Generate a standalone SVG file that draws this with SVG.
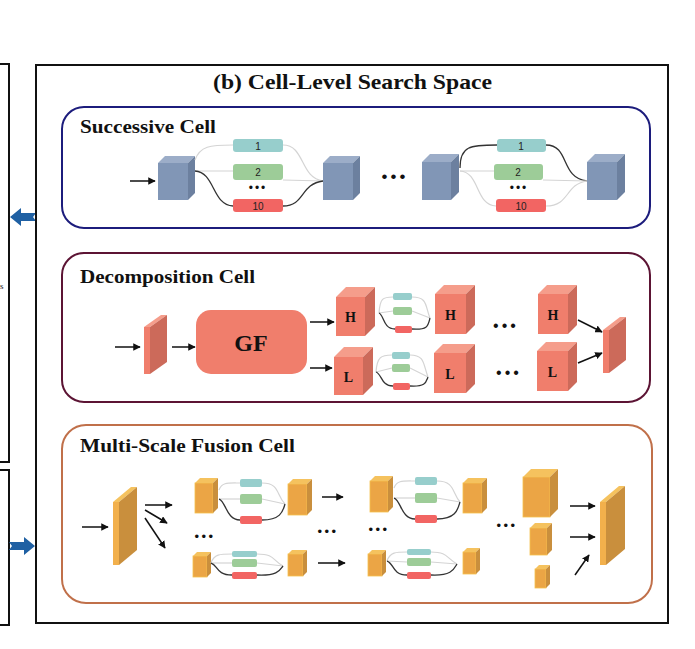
<svg xmlns="http://www.w3.org/2000/svg" width="695" height="649" viewBox="0 0 695 649">
<style>
.frame{fill:none;stroke:#111;stroke-width:2}
.title{font-family:"Liberation Serif","Times New Roman",serif;font-weight:bold;fill:#111}
.num{font-family:"Liberation Sans",Arial,sans-serif;font-size:10px;fill:#222;text-anchor:middle}
.dots{font-family:"Liberation Sans",Arial,sans-serif;fill:#111;text-anchor:middle}
.bf{fill:#8196b6}.bt{fill:#9cadc8}.bs{fill:#6c809f}
.sf{fill:#f07e6c}.st{fill:#f59d8b}.ss{fill:#cc6a5a}
.of{fill:#eba545;stroke:#f5c04e;stroke-width:0.8}.ot{fill:#f5c25e}.os{fill:#c98f3d}
.teal{fill:#97cecc}.green{fill:#9dcc98}.red{fill:#f26563}
.lt{fill:none;stroke:#d4d4d4;stroke-width:1.2}
.dk{fill:none;stroke:#333;stroke-width:1.3}
.arr{fill:none;stroke:#111;stroke-width:1.5;marker-end:url(#ah)}
.blue{fill:#1f60a3}
</style>
<defs>
<marker id="ah" viewBox="0 0 10 10" refX="9" refY="5" markerWidth="5" markerHeight="5" orient="auto">
<path d="M0,0 L10,5 L0,10 z" fill="#111"/>
</marker>
</defs>
<rect width="695" height="649" fill="#fff"/>

<!-- left side panels (cut) -->
<g id="left-panels">
<rect class="frame" x="-4" y="64" width="13" height="398"/>
<rect class="frame" x="-4" y="470" width="13" height="155"/>
<text x="0" y="289" font-family="Liberation Serif,serif" font-size="9" fill="#111">s</text>
<path class="blue" d="M10,217 L21,208 L21,213 L36,213 L33,217 L36,221 L21,221 L21,226 z"/>
<path class="blue" d="M35,546 L24,537 L24,542 L9,542 L12,546 L9,550 L24,550 L24,555 z"/>
</g>

<!-- main frame -->
<g id="main-frame">
<rect class="frame" x="36" y="65" width="632" height="558"/>
<text x="213" y="89" class="title" font-size="22" textLength="279" lengthAdjust="spacingAndGlyphs">(b) Cell-Level Search Space</text>
</g>

<!-- Successive Cell -->
<g id="successive-cell">
<rect x="62" y="107" width="588" height="121" rx="22" fill="none" stroke="#1c1c7c" stroke-width="2"/>
<text x="80" y="133" class="title" font-size="19" textLength="136" lengthAdjust="spacingAndGlyphs">Successive Cell</text>
</g>
<g id="s-cube1"><rect class="bf" x="158" y="163" width="30" height="37"/><path class="bt" d="M158,163 L165,156 L195,156 L188,163 z"/><path class="bs" d="M188,163 L195,156 L195,193 L188,200 z"/></g>
<g id="s-cube2"><rect class="bf" x="323" y="163" width="30" height="37"/><path class="bt" d="M323,163 L330,156 L360,156 L353,163 z"/><path class="bs" d="M353,163 L360,156 L360,193 L353,200 z"/></g>
<g id="s-cube3"><rect class="bf" x="422" y="162" width="29" height="38"/><path class="bt" d="M422,162 L430,154 L459,154 L451,162 z"/><path class="bs" d="M451,162 L459,154 L459,192 L451,200 z"/></g>
<g id="s-cube4"><rect class="bf" x="587" y="162" width="30" height="38"/><path class="bt" d="M587,162 L595,154 L625,154 L617,162 z"/><path class="bs" d="M617,162 L625,154 L625,192 L617,200 z"/></g>
<g id="s-ops1">
<rect class="teal" x="233" y="139" width="50" height="13" rx="3"/><text class="num" x="258" y="149.5">1</text>
<rect class="green" x="233" y="164" width="50" height="16" rx="3"/><text class="num" x="258" y="176">2</text>
<text class="dots" x="258" y="192" font-size="12" letter-spacing="2">•••</text>
<rect class="red" x="233" y="199" width="50" height="13" rx="3"/><text class="num" x="258" y="209.5">10</text>
</g>
<g id="s-ops2">
<rect class="teal" x="497" y="139" width="49" height="13" rx="3"/><text class="num" x="521" y="149.5">1</text>
<rect class="green" x="494" y="164" width="49" height="16" rx="3"/><text class="num" x="518" y="176">2</text>
<text class="dots" x="519" y="192" font-size="12" letter-spacing="2">•••</text>
<rect class="red" x="496" y="199" width="50" height="13" rx="3"/><text class="num" x="521" y="209.5">10</text>
</g>
<text class="dots" x="395" y="182" font-size="17" letter-spacing="3">•••</text>

<!-- Decomposition Cell -->
<g id="decomposition-cell">
<rect x="62" y="253" width="588" height="149" rx="22" fill="none" stroke="#5c1434" stroke-width="2"/>
<text x="80" y="283" class="title" font-size="19" textLength="175" lengthAdjust="spacingAndGlyphs">Decomposition Cell</text>
</g>
<g id="d-slab-in"><path class="st" d="M144,327 L161,315 L167,315 L150,327 z"/><rect class="sf" x="144" y="327" width="6" height="47"/><path class="ss" d="M150,327 L167,315 L167,362 L150,374 z"/></g>
<g id="d-gf"><rect x="196" y="310" width="111" height="64" rx="15" fill="#f07e6c"/><text x="251" y="351" class="title" font-size="24" text-anchor="middle">GF</text></g>
<g id="d-h1"><rect class="sf" x="336" y="297" width="29" height="39"/><path class="st" d="M336,297 L346,287 L375,287 L365,297 z"/><path class="ss" d="M365,297 L375,287 L375,326 L365,336 z"/><text x="350.5" y="322" class="title" font-size="14" text-anchor="middle">H</text></g>
<g id="d-l1"><rect class="sf" x="334" y="357" width="29" height="38"/><path class="st" d="M334,357 L344,347 L373,347 L363,357 z"/><path class="ss" d="M363,357 L373,347 L373,385 L363,395 z"/><text x="348.5" y="382" class="title" font-size="14" text-anchor="middle">L</text></g>
<g id="d-h2"><rect class="sf" x="435" y="294" width="31" height="40"/><path class="st" d="M435,294 L444,285 L475,285 L466,294 z"/><path class="ss" d="M466,294 L475,285 L475,325 L466,334 z"/><text x="450.5" y="320" class="title" font-size="14" text-anchor="middle">H</text></g>
<g id="d-l2"><rect class="sf" x="434" y="353" width="32" height="40"/><path class="st" d="M434,353 L443,344 L475,344 L466,353 z"/><path class="ss" d="M466,353 L475,344 L475,384 L466,393 z"/><text x="450" y="379" class="title" font-size="14" text-anchor="middle">L</text></g>
<g id="d-h3"><rect class="sf" x="538" y="294" width="30" height="40"/><path class="st" d="M538,294 L547,285 L577,285 L568,294 z"/><path class="ss" d="M568,294 L577,285 L577,325 L568,334 z"/><text x="553" y="320" class="title" font-size="14" text-anchor="middle">H</text></g>
<g id="d-l3"><rect class="sf" x="537" y="351" width="31" height="40"/><path class="st" d="M537,351 L546,342 L577,342 L568,351 z"/><path class="ss" d="M568,351 L577,342 L577,382 L568,391 z"/><text x="552.5" y="377" class="title" font-size="14" text-anchor="middle">L</text></g>
<g id="d-slab-out"><path class="st" d="M603,330 L620,317 L626,317 L609,330 z"/><rect class="sf" x="603" y="330" width="6" height="43"/><path class="ss" d="M609,330 L626,317 L626,360 L609,373 z"/></g>
<g id="d-ops-h">
<rect class="teal" x="393" y="293" width="19" height="7" rx="2"/>
<rect class="green" x="393" y="307" width="19" height="8" rx="2"/>
<rect class="red" x="395" y="326" width="17" height="7" rx="2"/>
</g>
<g id="d-ops-l">
<rect class="teal" x="392" y="352" width="18" height="7" rx="2"/>
<rect class="green" x="392" y="364" width="18" height="8" rx="2"/>
<rect class="red" x="393" y="383" width="17" height="7" rx="2"/>
</g>
<text class="dots" x="506" y="331" font-size="16" letter-spacing="3">•••</text>
<text class="dots" x="509" y="378" font-size="16" letter-spacing="3">•••</text>

<!-- Multi-Scale Fusion Cell -->
<g id="multiscale-cell">
<rect x="62" y="425" width="590" height="178" rx="24" fill="none" stroke="#c0704a" stroke-width="2"/>
<text x="80" y="452" class="title" font-size="19" textLength="215" lengthAdjust="spacingAndGlyphs">Multi-Scale Fusion Cell</text>
</g>
<g id="m-slab-in"><path class="ot" d="M113,502 L131,487 L137,487 L119,502 z"/><rect x="113" y="502" width="6" height="63" fill="#f2b04c"/><path class="os" d="M119,502 L137,487 L137,550 L119,565 z"/></g>
<g id="m-slab-out"><path class="ot" d="M600,502 L619,486 L625,486 L606,502 z"/><rect x="600" y="502" width="6" height="63" fill="#f2b04c"/><path class="os" d="M606,502 L625,486 L625,549 L606,565 z"/></g>
<g id="m-t1"><rect class="of" x="195" y="483" width="18" height="30"/><path class="ot" d="M195,483 L200,478 L218,478 L213,483 z"/><path class="os" d="M213,483 L218,478 L218,508 L213,513 z"/></g>
<g id="m-t2"><rect class="of" x="288" y="484" width="19" height="31"/><path class="ot" d="M288,484 L293,479 L312,479 L307,484 z"/><path class="os" d="M307,484 L312,479 L312,510 L307,515 z"/></g>
<g id="m-b1"><rect class="of" x="193" y="556" width="14" height="21"/><path class="ot" d="M193,556 L197,552 L211,552 L207,556 z"/><path class="os" d="M207,556 L211,552 L211,573 L207,577 z"/></g>
<g id="m-b2"><rect class="of" x="288" y="554" width="15" height="22"/><path class="ot" d="M288,554 L292,550 L307,550 L303,554 z"/><path class="os" d="M303,554 L307,550 L307,572 L303,576 z"/></g>
<g id="m-t3"><rect class="of" x="370" y="481" width="18" height="31"/><path class="ot" d="M370,481 L375,476 L393,476 L388,481 z"/><path class="os" d="M388,481 L393,476 L393,507 L388,512 z"/></g>
<g id="m-t4"><rect class="of" x="463" y="483" width="19" height="30"/><path class="ot" d="M463,483 L468,478 L487,478 L482,483 z"/><path class="os" d="M482,483 L487,478 L487,508 L482,513 z"/></g>
<g id="m-b3"><rect class="of" x="368" y="554" width="14" height="22"/><path class="ot" d="M368,554 L372,550 L386,550 L382,554 z"/><path class="os" d="M382,554 L386,550 L386,572 L382,576 z"/></g>
<g id="m-b4"><rect class="of" x="463" y="552" width="13" height="22"/><path class="ot" d="M463,552 L467,548 L480,548 L476,552 z"/><path class="os" d="M476,552 L480,548 L480,570 L476,574 z"/></g>
<g id="m-r1"><rect class="of" x="523" y="477" width="27" height="40"/><path class="ot" d="M523,477 L531,469 L558,469 L550,477 z"/><path class="os" d="M550,477 L558,469 L558,509 L550,517 z"/></g>
<g id="m-r2"><rect class="of" x="530" y="528" width="17" height="27"/><path class="ot" d="M530,528 L535,523 L552,523 L547,528 z"/><path class="os" d="M547,528 L552,523 L552,550 L547,555 z"/></g>
<g id="m-r3"><rect class="of" x="535" y="569" width="11" height="19"/><path class="ot" d="M535,569 L539,565 L550,565 L546,569 z"/><path class="os" d="M546,569 L550,565 L550,584 L546,588 z"/></g>
<g id="m-ops-t1"><rect class="teal" x="240" y="479" width="22" height="8" rx="2"/><rect class="green" x="240" y="494" width="22" height="10" rx="2"/><rect class="red" x="240" y="516" width="22" height="8" rx="2"/></g>
<g id="m-ops-b1"><rect class="teal" x="232" y="551" width="25" height="6" rx="2"/><rect class="green" x="232" y="559" width="25" height="8" rx="2"/><rect class="red" x="232" y="572" width="25" height="7" rx="2"/></g>
<g id="m-ops-t2"><rect class="teal" x="415" y="477" width="22" height="8" rx="2"/><rect class="green" x="415" y="493" width="22" height="10" rx="2"/><rect class="red" x="415" y="515" width="22" height="8" rx="2"/></g>
<g id="m-ops-b2"><rect class="teal" x="407" y="549" width="24" height="6" rx="2"/><rect class="green" x="407" y="558" width="24" height="8" rx="2"/><rect class="red" x="407" y="572" width="24" height="7" rx="2"/></g>
<text class="dots" x="205" y="541" font-size="13" letter-spacing="2.5">•••</text>
<text class="dots" x="328" y="536" font-size="13" letter-spacing="2.5">•••</text>
<text class="dots" x="379" y="534" font-size="13" letter-spacing="2.5">•••</text>
<text class="dots" x="507" y="530" font-size="13" letter-spacing="2.5">•••</text>

<!-- connectors -->
<g id="connectors">
<path class="arr" d="M130,181 L155,181"/>
<path class="lt" d="M195,160 C200,146 210,145 233,145"/>
<path class="lt" d="M195,171 L233,171"/>
<path class="dk" d="M195,171 C215,172 212,205 233,206"/>
<path class="lt" d="M283,145 C305,145 300,178 323,181"/>
<path class="lt" d="M283,180 L323,181"/>
<path class="dk" d="M283,206 C305,206 300,184 323,181"/>
<path class="dk" d="M460,168 C460,146 470,145 497,145"/>
<path class="lt" d="M460,171 L494,171"/>
<path class="lt" d="M460,171 C480,172 475,205 496,206"/>
<path class="dk" d="M546,145 C570,145 560,178 587,181"/>
<path class="lt" d="M543,180 L587,181"/>
<path class="lt" d="M546,206 C570,206 565,184 587,181"/>
<path class="arr" d="M115,347 L140,347"/>
<path class="arr" d="M172,347 L195,347"/>
<path class="arr" d="M310,322 L334,322"/>
<path class="arr" d="M310,368 L332,368"/>
<path class="lt" d="M379,313 C380,298 383,297 393,297"/>
<path class="lt" d="M379,313 L393,311"/>
<path class="dk" d="M379,313 C384,315 383,329 395,329"/>
<path class="lt" d="M412,297 C428,297 425,306 430,318"/>
<path class="lt" d="M412,311 L430,318"/>
<path class="dk" d="M412,329 C428,330 428,326 430,318"/>
<path class="lt" d="M376,372 C377,357 381,355 392,355"/>
<path class="lt" d="M376,372 L392,368"/>
<path class="dk" d="M376,372 C382,374 381,386 393,386"/>
<path class="lt" d="M410,355 C425,355 423,364 428,377"/>
<path class="lt" d="M410,368 L428,377"/>
<path class="dk" d="M410,386 C426,387 426,382 428,377"/>
<path class="arr" d="M578,320 L602,332"/>
<path class="arr" d="M578,363 L602,353"/>
<path class="arr" d="M82,527 L108,527"/>
<path class="arr" d="M145,505 L172,505"/>
<path class="arr" d="M145,510 L167,523"/>
<path class="arr" d="M145,518 L165,548"/>
<path class="lt" d="M219,490 C222,482 228,483 240,483"/>
<path class="lt" d="M219,499 L240,499"/>
<path class="dk" d="M219,499 C226,501 226,520 240,520"/>
<path class="lt" d="M262,483 C280,483 276,495 285,504"/>
<path class="lt" d="M262,499 L285,504"/>
<path class="dk" d="M262,520 C282,520 283,510 285,504"/>
<path class="arr" d="M322,497 L343,497"/>
<path class="lt" d="M211,563 C214,554 220,554 232,554"/>
<path class="lt" d="M211,563 L232,563"/>
<path class="dk" d="M211,563 C218,565 216,575 232,575"/>
<path class="lt" d="M257,554 C275,554 272,560 283,566"/>
<path class="lt" d="M257,563 L283,566"/>
<path class="dk" d="M257,575 C278,576 280,570 283,566"/>
<path class="arr" d="M318,563 L345,563"/>
<path class="lt" d="M394,488 C397,480 403,481 415,481"/>
<path class="lt" d="M394,498 L415,498"/>
<path class="dk" d="M394,498 C401,500 401,519 415,519"/>
<path class="lt" d="M437,481 C455,481 452,493 460,502"/>
<path class="lt" d="M437,498 L460,502"/>
<path class="dk" d="M437,519 C457,519 458,508 460,502"/>
<path class="lt" d="M387,561 C390,552 396,552 407,552"/>
<path class="lt" d="M387,561 L407,562"/>
<path class="dk" d="M387,561 C394,563 392,575 407,575"/>
<path class="lt" d="M431,552 C448,552 446,558 457,564"/>
<path class="lt" d="M431,562 L457,564"/>
<path class="dk" d="M431,575 C452,576 454,569 457,564"/>
<path class="arr" d="M570,506 L595,506"/>
<path class="arr" d="M570,537 L595,537"/>
<path class="arr" d="M575,575 L589,555"/>
</g>
</svg>
